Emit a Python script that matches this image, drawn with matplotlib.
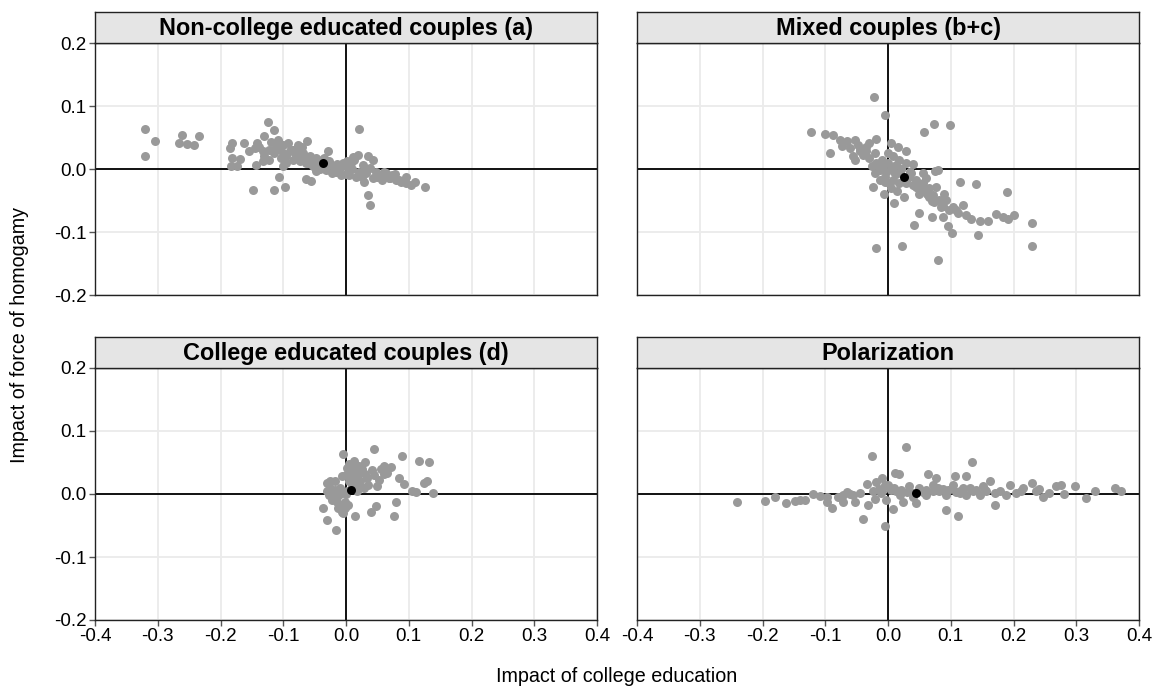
import matplotlib
matplotlib.use("Agg")
import matplotlib.pyplot as plt

plt.rcParams['font.family'] = ['Liberation Sans', 'DejaVu Sans']

titles = ["Non-college educated couples (a)", "Mixed couples (b+c)",
          "College educated couples (d)", "Polarization"]

# non-college educated couples (a)
a_x = [-0.320, -0.304, -0.321, -0.261, -0.235, -0.266, -0.254, -0.243, -0.182, -0.185,
       -0.163, -0.155, -0.142, -0.125, -0.114, -0.131, -0.181, -0.169, -0.183, -0.173,
       -0.143, -0.133, -0.122, -0.149, -0.114, -0.098, -0.107, -0.101, -0.064, -0.056,
       -0.092, -0.077, -0.062, -0.028, 0.021, 0.035, 0.038, 0.126, 0.104, 0.095,
       -0.122, -0.112, -0.109, -0.101, -0.090, -0.080, -0.069, -0.058, -0.048, -0.085,
       -0.074, -0.053, -0.048, -0.027, -0.021, -0.016, -0.008, -0.005, 0.005, 0.011,
       0.019, 0.027, 0.035, 0.043, 0.032, 0.043, 0.029, 0.053, 0.064, 0.074,
       0.080, 0.088, 0.058, 0.016, 0.005, -0.032, -0.040, -0.064, -0.096, -0.104,
       -0.133, -0.138, -0.120, -0.045, -0.035, -0.015, 0.000, 0.010, 0.020, 0.050,
       0.068, 0.085, -0.060, -0.075, -0.088, -0.010, 0.002, 0.030, 0.060, 0.012,
       -0.115, -0.105, -0.095, -0.085, -0.075, -0.068, -0.060, -0.050, -0.042, -0.030,
       -0.022, -0.012, 0.000, 0.008, 0.025, 0.038, 0.048, 0.070, 0.078, 0.095,
       0.110, -0.070, -0.100, -0.130, -0.145]
a_y = [0.063, 0.044, 0.020, 0.054, 0.053, 0.041, 0.039, 0.038, 0.041, 0.033,
       0.042, 0.028, 0.041, 0.074, 0.062, 0.052, 0.017, 0.016, 0.005, 0.004,
       0.006, 0.012, 0.014, -0.033, -0.033, -0.028, -0.013, 0.004, -0.016, -0.019,
       0.041, 0.038, 0.044, 0.029, 0.064, -0.041, -0.057, -0.028, -0.026, -0.012,
       0.030, 0.035, 0.046, 0.025, 0.028, 0.022, 0.025, 0.020, 0.017, 0.014,
       0.012, 0.004, -0.003, 0.012, 0.004, -0.004, -0.010, 0.009, 0.001, 0.019,
       0.022, 0.006, 0.021, 0.014, -0.007, -0.015, -0.020, -0.010, -0.007, -0.010,
       -0.017, -0.020, -0.017, -0.012, -0.010, -0.002, 0.006, 0.009, 0.009, 0.017,
       0.028, 0.035, 0.043, 0.015, 0.018, 0.008, 0.005, 0.000, -0.004, -0.012,
       -0.014, -0.018, 0.018, 0.024, 0.030, 0.002, 0.012, -0.002, -0.004, 0.014,
       0.025, 0.032, 0.020, 0.030, 0.025, 0.015, 0.010, 0.012, 0.000, 0.005,
       -0.006, 0.002, -0.008, 0.010, -0.012, 0.002, -0.005, -0.014, -0.008, -0.022,
       -0.020, 0.035, 0.038, 0.020, 0.033]

# mixed couples (b+c)
b_x = [-0.023, -0.004, -0.122, -0.100, -0.087, -0.077, -0.073, -0.093, -0.053, -0.053,
       -0.056, -0.045, -0.035, -0.030, -0.019, -0.040, -0.030, -0.019, 0.005, 0.016,
       0.029, 0.000, 0.008, 0.018, 0.029, 0.040, 0.058, 0.073, 0.099, -0.021,
       -0.013, -0.024, -0.006, 0.010, 0.008, 0.018, 0.034, 0.045, 0.055, 0.061,
       0.071, 0.077, 0.082, 0.093, 0.075, 0.080, 0.103, 0.119, 0.115, 0.141,
       0.189, 0.050, 0.070, 0.042, 0.087, 0.095, 0.102, 0.111, 0.124, 0.133,
       0.146, 0.160, 0.172, 0.183, 0.192, 0.201, 0.230, 0.230, 0.144, -0.019,
       0.023, 0.080, -0.008, -0.003, 0.005, 0.013, -0.013, -0.005, 0.002, 0.045,
       0.050, 0.066, 0.074, 0.037, 0.055, 0.029, -0.060, -0.045, -0.010, 0.020,
       0.035, 0.062, 0.088, -0.015, 0.012,
       0.000, 0.010, 0.020, 0.030, 0.040, 0.048, 0.058, 0.065, 0.070, 0.085,
       0.097, 0.108, -0.010, -0.020, -0.035, -0.048, -0.065, 0.005, -0.005, 0.015,
       0.025, 0.035, -0.025, 0.060, 0.090]
b_y = [0.114, 0.085, 0.058, 0.055, 0.054, 0.046, 0.037, 0.026, 0.046, 0.014,
       0.020, 0.030, 0.035, 0.041, 0.047, 0.022, 0.017, 0.009, 0.042, 0.035,
       0.028, 0.025, 0.020, 0.014, 0.009, 0.008, 0.059, 0.071, 0.070, -0.007,
       -0.017, -0.028, -0.039, -0.054, -0.017, -0.023, -0.012, -0.017, -0.023, -0.033,
       -0.041, -0.028, -0.049, -0.049, -0.003, -0.002, -0.060, -0.057, -0.021, -0.024,
       -0.037, -0.070, -0.076, -0.089, -0.076, -0.090, -0.101, -0.070, -0.073, -0.080,
       -0.083, -0.082, -0.072, -0.076, -0.080, -0.073, -0.085, -0.122, -0.105, -0.126,
       -0.122, -0.145, 0.004, -0.004, 0.001, 0.006, -0.002, -0.012, -0.023, -0.028,
       -0.039, -0.044, -0.052, -0.007, -0.007, -0.023, 0.034, 0.029, 0.010, 0.000,
       -0.005, -0.040, -0.058, 0.000, -0.008,
       0.010, -0.005, 0.000, -0.015, -0.025, -0.030, -0.035, -0.030, -0.050, -0.060,
       -0.065, -0.065, 0.015, 0.025, 0.028, 0.038, 0.045, -0.030, -0.020, -0.035,
       -0.045, -0.005, 0.005, -0.015, -0.040]

# college educated couples (d)
d_x = [-0.004, 0.044, 0.089, 0.116, 0.132, 0.030, 0.041, 0.071, 0.060, 0.052,
       0.049, 0.084, 0.092, 0.105, 0.111, 0.124, 0.129, 0.138, 0.079, 0.048,
       0.040, 0.076, 0.015, -0.037, -0.031, -0.016, -0.006, -0.009, -0.030, -0.025,
       -0.027, -0.020, -0.014, -0.009, 0.002, 0.010, 0.015, 0.017, 0.004, 0.010,
       0.023, 0.028, 0.033, 0.002, -0.017, -0.006, -0.001, -0.012, 0.017, 0.023,
       0.007, -0.017, -0.022, -0.001, 0.060, 0.065, 0.005, 0.012, -0.010, 0.020,
       0.000, 0.005, 0.012, 0.020, 0.025, 0.030, -0.010, -0.020, -0.015, -0.005,
       0.003, 0.035, 0.045, 0.055, -0.025, -0.030, 0.000]
d_y = [0.063, 0.072, 0.061, 0.052, 0.051, 0.050, 0.038, 0.043, 0.031, 0.023,
       0.012, 0.026, 0.016, 0.005, 0.003, 0.017, 0.020, 0.002, -0.013, -0.019,
       -0.029, -0.035, -0.035, -0.023, -0.042, -0.057, -0.028, -0.017, 0.017, 0.010,
       -0.001, -0.006, -0.012, 0.004, 0.041, 0.044, 0.036, 0.028, 0.020, 0.012,
       0.020, 0.010, 0.025, 0.004, 0.020, 0.028, -0.012, -0.022, 0.004, 0.036,
       0.028, 0.007, -0.009, -0.022, 0.044, 0.033, 0.033, 0.024, 0.000, 0.015,
       0.030, 0.048, 0.052, 0.045, 0.040, 0.032, 0.010, 0.002, -0.004, -0.030,
       -0.018, 0.015, 0.030, 0.040, 0.020, 0.005, 0.000]

# polarization
p_x = [-0.240, -0.196, -0.180, -0.162, -0.148, -0.141, -0.133, -0.109, -0.098, -0.098,
       -0.089, -0.072, -0.072, -0.056, -0.053, -0.040, -0.032, -0.025, -0.004, 0.008,
       0.024, 0.029, 0.045, 0.093, 0.111, 0.171, 0.134, 0.125, 0.064, 0.076,
       0.106, 0.011, 0.017, -0.034, -0.019, -0.009, -0.005, 0.003, 0.013, 0.034,
       0.050, 0.072, 0.082, 0.103, 0.119, 0.135, 0.151, 0.162, 0.156, 0.178,
       0.194, 0.204, 0.212, 0.229, 0.236, 0.247, 0.257, 0.268, 0.276, 0.281,
       0.298, 0.315, 0.330, 0.362, 0.371, -0.045, -0.024, -0.011, -0.003, 0.019,
       0.040, 0.061, 0.093, 0.125, 0.146, 0.188, 0.072, 0.109, 0.141, -0.015,
       0.005, 0.055, 0.088, 0.115, -0.120, -0.065,
       -0.010, 0.000, 0.010, 0.020, 0.030, 0.060, 0.080, 0.095, 0.115, 0.130,
       0.155, 0.170, -0.080, -0.060, 0.215, 0.240, -0.020, 0.040]
p_y = [-0.012, -0.011, -0.005, -0.015, -0.011, -0.010, -0.010, -0.003, -0.004, -0.012,
       -0.022, -0.002, -0.012, -0.002, -0.013, -0.040, -0.017, 0.060, -0.051, -0.024,
       -0.012, 0.074, -0.014, -0.025, -0.035, -0.017, 0.050, 0.029, 0.032, 0.026,
       0.028, 0.034, 0.032, 0.016, 0.019, 0.025, 0.014, 0.009, 0.004, 0.012,
       0.009, 0.014, 0.005, 0.014, 0.009, 0.005, 0.012, 0.020, 0.004, 0.004,
       0.014, 0.001, 0.005, 0.017, 0.004, -0.004, 0.001, 0.013, 0.015, 0.000,
       0.013, -0.007, 0.005, 0.009, 0.005, 0.001, 0.004, 0.001, -0.010, -0.002,
       0.001, -0.002, -0.001, -0.002, -0.001, -0.001, 0.004, 0.003, 0.006, 0.008,
       0.006, 0.003, 0.008, 0.002, 0.000, 0.003,
       0.005, 0.015, 0.010, 0.006, 0.003, 0.006, 0.010, 0.007, 0.004, 0.010,
       0.007, 0.002, -0.005, 0.000, 0.010, 0.008, -0.008, -0.004]

# average effect in each panel
mean_x = [-0.036, 0.025, 0.008, 0.044]
mean_y = [0.009, -0.013, 0.007, 0.001]

xs = [a_x, b_x, d_x, p_x]
ys = [a_y, b_y, d_y, p_y]

fig = plt.figure(figsize=(11.58, 6.86), dpi=100)
W, H = 1158, 686
lefts = [95, 637]
tops = [43, 368]
pw, ph = 502, 252

ticks = [-0.4, -0.3, -0.2, -0.1, 0.0, 0.1, 0.2, 0.3, 0.4]
yticks = [-0.2, -0.1, 0.0, 0.1, 0.2]

for i in range(4):
    r, c = divmod(i, 2)
    ax = fig.add_axes([lefts[c] / W, 1 - (tops[r] + ph) / H, pw / W, ph / H])
    ax.set_xlim(-0.4, 0.4)
    ax.set_ylim(-0.2, 0.2)
    ax.set_xticks(ticks)
    ax.set_yticks(yticks)
    ax.grid(True, color='#EBEBEB', linewidth=1.3)
    ax.set_axisbelow(True)
    ax.axhline(0, color='black', linewidth=1.3, zorder=2)
    ax.axvline(0, color='black', linewidth=1.3, zorder=2)
    ax.scatter(xs[i], ys[i], s=42, color='#999999', linewidths=0, zorder=3)
    ax.scatter([mean_x[i]], [mean_y[i]], s=42, color='black', linewidths=0, zorder=4)
    for sp in ax.spines.values():
        sp.set_color('#222222')
        sp.set_linewidth(1.0)
    ax.tick_params(length=4, width=1, color='#555555', labelsize=13.5, labelcolor='black', pad=2)
    if c == 0:
        ax.set_yticklabels(['-0.2', '-0.1', '0.0', '0.1', '0.2'])
    else:
        ax.tick_params(axis='y', left=False, labelleft=False)
    if r == 1:
        ax.set_xticklabels(['-0.4', '-0.3', '-0.2', '-0.1', '0.0', '0.1', '0.2', '0.3', '0.4'])
    else:
        ax.tick_params(axis='x', bottom=False, labelbottom=False)

    # facet strip
    sx = fig.add_axes([lefts[c] / W, 1 - tops[r] / H, pw / W, 31 / H])
    sx.set_xticks([])
    sx.set_yticks([])
    sx.set_facecolor('#E5E5E5')
    for sp in sx.spines.values():
        sp.set_color('#222222')
        sp.set_linewidth(1.0)
    sx.text(0.5, 0.47, titles[i], ha='center', va='center', fontsize=16.9,
            fontweight='bold', transform=sx.transAxes)

fig.text(617 / W, 1 - 677 / H, 'Impact of college education', ha='center', va='center', fontsize=14.2)
fig.text(20 / W, 1 - 335 / H, 'Impact of force of homogamy', ha='center', va='center',
         rotation=90, fontsize=14.2)

fig.savefig('out.png', dpi=100, facecolor='white')
